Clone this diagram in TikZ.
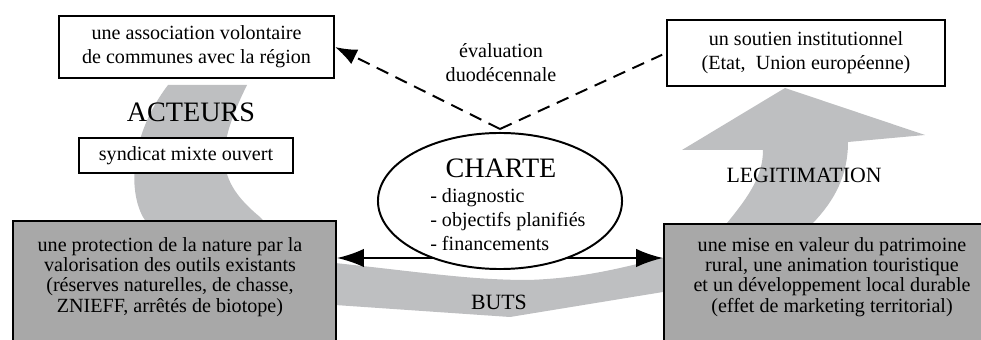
\documentclass[tikz,border=0pt]{standalone}
\usepackage{fontspec}
\setmainfont{Liberation Serif}
\usetikzlibrary{arrows.meta, shapes.geometric, positioning, calc}
\definecolor{bandgray}{RGB}{190,191,193}
\definecolor{boxgray}{RGB}{168,168,168}

\begin{document}
\begin{tikzpicture}[
    x=0.025cm, y=-0.025cm,
    txt/.style={font=\fontsize{14.3}{17}\selectfont, align=center, inner sep=0pt},
    box/.style={draw, line width=1.4pt, fill=white, inner sep=0pt, txt},
    graybox/.style={draw, line width=1.4pt, fill=boxgray, inner sep=0pt},
    graytxt/.style={font=\fontsize{14.3}{14.4}\selectfont, align=center, inner sep=0pt},
    titre/.style={font=\fontsize{20}{24}\selectfont, inner sep=0pt},
    soustitre/.style={font=\fontsize{15.5}{18}\selectfont, inner sep=0pt},
    band/.style={fill=bandgray, draw=none},
    evalline/.style={dash pattern=on 0.32cm off 0.2cm, line width=1.4pt},
    arr/.style={line width=1.4pt}
  ]
  \clip (0,0) rectangle (981,340);
  % Cycle band
  \fill[band] (168,85) -- (247,85)
     .. controls (215,150) and (215,180) .. (260,217)
     .. controls (285,245) and (310,258) .. (335,263)
     .. controls (420,272) and (470,280) .. (528,280)
     .. controls (590,278) and (630,265) .. (663,258)
     .. controls (690,250) and (712,240) .. (727,223)
     .. controls (750,195) and (763,175) .. (763,150)
     -- (682,150) -- (785,88) -- (925,135) -- (848,142)
     .. controls (848,175) and (835,200) .. (813,223)
     .. controls (760,270) and (700,285) .. (663,292)
     -- (510,317) -- (335,305)
     .. controls (250,295) and (165,255) .. (143,217)
     .. controls (128,190) and (130,135) .. (168,85) -- cycle;
  % Goals
  \node[graybox, anchor=north west, minimum width=8.075cm, minimum height=4cm] (protbox) at (12,220) {};
  \node[graytxt] (prot) at (170,277) {une protection de la nature par la\\valorisation des outils existants\\(réserves naturelles, de chasse,\\ZNIEFF, arrêtés de biotope)};
  \node[graybox, anchor=north west, minimum width=8.5cm, minimum height=4cm] (misebox) at (663,223) {};
  \node[graytxt] (mise) at (832,277) {une mise en valeur du patrimoine\\rural, une animation touristique\\et un développement local durable\\(effet de marketing territorial)};
  \draw[arr, {Latex[length=0.67cm,width=0.46cm]}-{Latex[length=0.67cm,width=0.46cm]}]
    ($(protbox.north east)+(0,38)$) -- ($(misebox.north west)+(0,35)$);
  % Charter
  \node[ellipse, draw, line width=1.4pt, fill=white, minimum width=6.1cm,
        minimum height=3.4cm, inner sep=0pt] (charte) at (500,201) {};
  \node[titre] (chartetitre) at (501,168) {CHARTE};
  \node[txt, align=left, anchor=north west] (charteliste) at (430,188) {- diagnostic\\- objectifs planifiés\\- financements};
  % Labels
  \node[titre] (acteurs) at (191,112) {ACTEURS};
  \node[soustitre] (legit) at (804,175) {LEGITIMATION};
  \node[soustitre] (buts) at (499,302) {BUTS};
  % Actors and support
  \node[box, minimum width=6.875cm, minimum height=1.55cm] (assoc) at (196.5,47) {une association volontaire\\de communes avec la région};
  \node[box, minimum width=6.95cm, minimum height=1.65cm] (soutien) at (806,53) {un soutien institutionnel\\(Etat,\ \ Union européenne)};
  \node[box, minimum width=5.35cm, minimum height=0.875cm] (syndicat) at (186,155.5) {syndicat mixte ouvert};
  % Evaluation
  \node[txt] (eval) at (501,63) {évaluation\\duodécennale};
  \coordinate (sommet) at (500,129);
  \draw[evalline, -{Latex[length=0.55cm,width=0.4cm]}] (sommet) -- (assoc.east);
  \draw[evalline, shorten >=3pt] (sommet) -- (soutien.west);
\end{tikzpicture}
\end{document}
